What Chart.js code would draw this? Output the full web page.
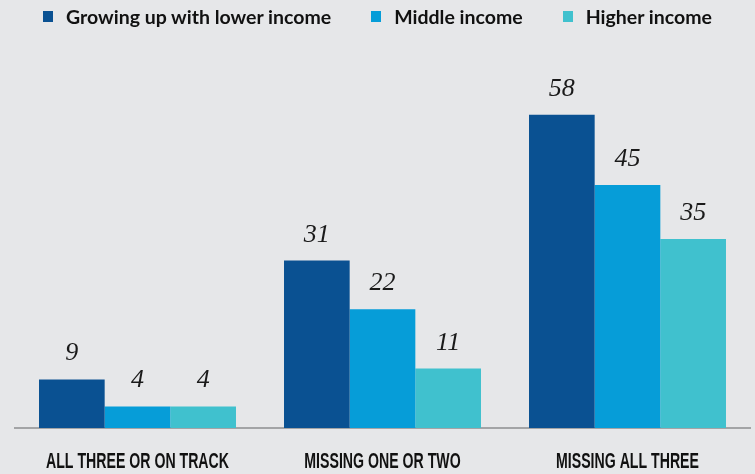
<!DOCTYPE html>
<html><head><meta charset="utf-8">
<script src="https://cdn.jsdelivr.net/npm/chart.js@4.4.1/dist/chart.umd.min.js"></script>
<style>
html,body{margin:0;padding:0;background:#e6e7e9;}
#wrap{position:relative;width:755px;height:474px;}
#legend{position:absolute;top:5px;left:0;width:755px;display:flex;justify-content:center;font-family:Lato,"Noto Sans",sans-serif;font-weight:700;font-size:19.5px;color:#111;}
.item{display:flex;align-items:center;margin:0 20px;}
.sw{width:10px;height:11px;margin-right:13px;}
canvas{position:absolute;top:0;left:0;}
</style></head>
<body><div id="wrap"><canvas id="c" width="755" height="474"></canvas><div id="legend"></div></div>
<script>
const categories = ["ALL THREE OR ON TRACK", "MISSING ONE OR TWO", "MISSING ALL THREE"];
const seriesNames = ["Growing up with lower income", "Middle income", "Higher income"];
const lowerIncome = [9, 31, 58];
const middleIncome = [4, 22, 45];
const higherIncome = [4, 11, 35];
const colors = ["#0a5192", "#069dd8", "#40c1ce"];

const leg = document.getElementById('legend');
seriesNames.forEach((n,i)=>{
  const it=document.createElement('div');it.className='item';
  const sw=document.createElement('div');sw.className='sw';sw.style.background=colors[i];
  const t=document.createElement('span');t.textContent=n;
  it.appendChild(sw);it.appendChild(t);leg.appendChild(it);
});

const valueLabels = {
  id:'valueLabels',
  afterDatasetsDraw(chart){
    const ctx=chart.ctx;ctx.save();
    ctx.font='italic 26px "Liberation Serif", serif';
    ctx.fillStyle='#1a1a1a';ctx.textAlign='center';ctx.textBaseline='alphabetic';
    chart.data.datasets.forEach((ds,di)=>{
      chart.getDatasetMeta(di).data.forEach((el,i)=>{
        ctx.fillText(String(ds.data[i]), el.x, el.y-19);
      });
    });
    ctx.restore();
  }
};

const catLabels = {
  id:'catLabels',
  afterDraw(chart){
    const ctx=chart.ctx, xs=chart.scales.x;
    ctx.save();
    ctx.font='bold 22px "Liberation Sans", Arial, sans-serif';
    ctx.fillStyle='#111';ctx.textAlign='center';ctx.textBaseline='alphabetic';
    const sx = 183/ctx.measureText(categories[0]).width;
    categories.forEach((c,i)=>{
      const x=xs.getPixelForValue(i);
      ctx.save();ctx.translate(x, chart.chartArea.bottom+40);ctx.scale(sx,1);
      ctx.fillText(c,0,0);ctx.restore();
    });
    ctx.restore();
  }
};

new Chart(document.getElementById('c'),{
  type:'bar',
  data:{labels:categories,datasets:[
    {label:seriesNames[0],data:lowerIncome,backgroundColor:colors[0]},
    {label:seriesNames[1],data:middleIncome,backgroundColor:colors[1]},
    {label:seriesNames[2],data:higherIncome,backgroundColor:colors[2]}
  ]},
  options:{
    responsive:false,animation:false,
    layout:{padding:{top:77,left:15,right:5,bottom:46}},
    plugins:{legend:{display:false},tooltip:{enabled:false}},
    datasets:{bar:{categoryPercentage:0.804,barPercentage:1}},
    scales:{
      y:{display:false,min:0,max:65},
      x:{
        grid:{display:false,drawTicks:false},
        border:{display:true,color:'#a3a4a6',width:2},
        ticks:{display:false}
      }
    }
  },
  plugins:[valueLabels,catLabels]
});
</script></body></html>
